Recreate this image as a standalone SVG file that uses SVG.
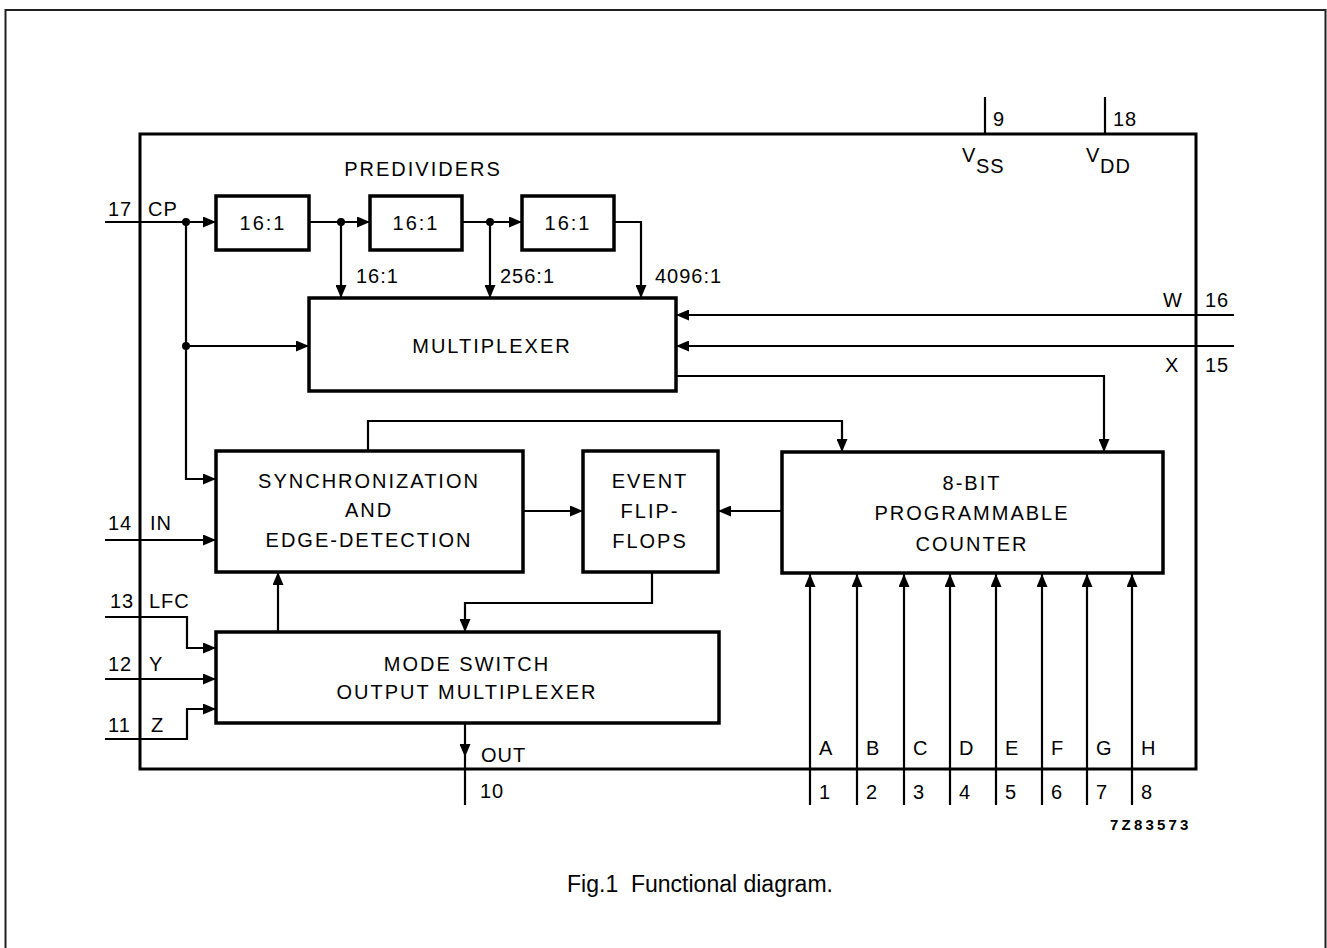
<svg xmlns="http://www.w3.org/2000/svg" width="1327" height="948" viewBox="0 0 1327 948">
<style>
.box{fill:#fff;stroke:#000;stroke-width:3.5}
.w{fill:none;stroke:#000;stroke-width:2.2}
.t{font-family:"Liberation Sans",Arial,sans-serif;font-size:20px;letter-spacing:2px;fill:#000}
.p{font-family:"Liberation Sans",Arial,sans-serif;font-size:20px;letter-spacing:1px;fill:#000}
.m{text-anchor:middle}
</style>
<defs>
<marker id="a" viewBox="0 0 13 11" refX="13" refY="5.5" markerWidth="13" markerHeight="11" orient="auto" markerUnits="userSpaceOnUse"><path d="M0,0L13,5.5L0,11z" fill="#000"/></marker>
</defs>
<rect width="1327" height="948" fill="#fff"/>
<path d="M5.5,954V10H1325.5V954" fill="none" stroke="#222" stroke-width="2"/>
<rect x="140" y="134" width="1056" height="635" fill="none" stroke="#000" stroke-width="3"/>

<g id="connectors">
<path class="w" d="M985,97V134M1105,97V134"/>
<path class="w" d="M105,222H216" marker-end="url(#a)"/>
<path class="w" d="M186,222V479H216" marker-end="url(#a)"/>
<path class="w" d="M186,346H309" marker-end="url(#a)"/>
<circle cx="186" cy="222" r="4"/>
<circle cx="186" cy="346" r="4"/>
<path class="w" d="M309,222H370" marker-end="url(#a)"/>
<path class="w" d="M341,222V298" marker-end="url(#a)"/>
<circle cx="341" cy="222" r="4"/>
<path class="w" d="M462,222H522" marker-end="url(#a)"/>
<path class="w" d="M490,222V298" marker-end="url(#a)"/>
<circle cx="490" cy="222" r="4"/>
<path class="w" d="M614,222H641V298" marker-end="url(#a)"/>
<path class="w" d="M1234,315H676" marker-end="url(#a)"/>
<path class="w" d="M1234,346H676" marker-end="url(#a)"/>
<path class="w" d="M676,376H1104V452" marker-end="url(#a)"/>
<path class="w" d="M368,451V421H842V452" marker-end="url(#a)"/>
<path class="w" d="M523,511H583" marker-end="url(#a)"/>
<path class="w" d="M782,511H718" marker-end="url(#a)"/>
<path class="w" d="M652,572V603H465V632" marker-end="url(#a)"/>
<path class="w" d="M278,632V572" marker-end="url(#a)"/>
<path class="w" d="M105,540H216" marker-end="url(#a)"/>
<path class="w" d="M105,617H187V648H216" marker-end="url(#a)"/>
<path class="w" d="M105,679H216" marker-end="url(#a)"/>
<path class="w" d="M105,739H187V709H216" marker-end="url(#a)"/>
<path class="w" d="M465,723V757" marker-end="url(#a)"/>
<path class="w" d="M465,757V805"/>
<path class="w" d="M810,805V574" marker-end="url(#a)"/>
<path class="w" d="M857,805V574" marker-end="url(#a)"/>
<path class="w" d="M904,805V574" marker-end="url(#a)"/>
<path class="w" d="M950,805V574" marker-end="url(#a)"/>
<path class="w" d="M996,805V574" marker-end="url(#a)"/>
<path class="w" d="M1042,805V574" marker-end="url(#a)"/>
<path class="w" d="M1087,805V574" marker-end="url(#a)"/>
<path class="w" d="M1132,805V574" marker-end="url(#a)"/>
</g>

<g id="pre1"><rect class="box" x="216" y="196" width="93" height="54"/><text class="t m" x="263" y="230">16:1</text></g>
<g id="pre2"><rect class="box" x="370" y="196" width="92" height="54"/><text class="t m" x="416" y="230">16:1</text></g>
<g id="pre3"><rect class="box" x="522" y="196" width="92" height="54"/><text class="t m" x="568" y="230">16:1</text></g>
<g id="mux"><rect class="box" x="309" y="298" width="367" height="93"/><text class="t m" x="492" y="353">MULTIPLEXER</text></g>
<g id="sync"><rect class="box" x="216" y="451" width="307" height="121"/>
<text class="t m" x="369" y="488">SYNCHRONIZATION</text><text class="t m" x="369" y="517">AND</text><text class="t m" x="369" y="547">EDGE-DETECTION</text></g>
<g id="event"><rect class="box" x="583" y="451" width="135" height="121"/>
<text class="t m" x="650" y="488">EVENT</text><text class="t m" x="650" y="518">FLIP-</text><text class="t m" x="650" y="548">FLOPS</text></g>
<g id="counter"><rect class="box" x="782" y="452" width="381" height="121"/>
<text class="t m" x="972" y="490">8-BIT</text><text class="t m" x="972" y="520">PROGRAMMABLE</text><text class="t m" x="972" y="551">COUNTER</text></g>
<g id="mode"><rect class="box" x="216" y="632" width="503" height="91"/>
<text class="t m" x="467" y="671">MODE SWITCH</text><text class="t m" x="467" y="699">OUTPUT MULTIPLEXER</text></g>

<g id="labels">
<text class="t m" x="423" y="176">PREDIVIDERS</text>
<text class="p" x="356" y="283">16:1</text>
<text class="p" x="500" y="283">256:1</text>
<text class="p" x="655" y="283">4096:1</text>
<text class="p" x="993" y="126">9</text>
<text class="p" x="1113" y="126">18</text>
<text class="p" x="962" y="162">V</text><text class="p" x="976" y="173">SS</text>
<text class="p" x="1086" y="162">V</text><text class="p" x="1100" y="173">DD</text>
<text class="p" x="108" y="216">17</text><text class="p" x="148" y="216">CP</text>
<text class="p" x="108" y="530">14</text><text class="p" x="150" y="530">IN</text>
<text class="p" x="110" y="608">13</text><text class="p" x="149" y="608">LFC</text>
<text class="p" x="108" y="671">12</text><text class="p" x="149" y="671">Y</text>
<text class="p" x="108" y="732">11</text><text class="p" x="151" y="732">Z</text>
<text class="p" x="1163" y="307">W</text><text class="p" x="1205" y="307">16</text>
<text class="p" x="1165" y="372">X</text><text class="p" x="1205" y="372">15</text>
<text class="p" x="481" y="762">OUT</text>
<text class="p" x="480" y="798">10</text>
<text class="p" x="819" y="755">A</text><text class="p" x="866" y="755">B</text><text class="p" x="913" y="755">C</text><text class="p" x="959" y="755">D</text>
<text class="p" x="1005" y="755">E</text><text class="p" x="1051" y="755">F</text><text class="p" x="1096" y="755">G</text><text class="p" x="1141" y="755">H</text>
<text class="p" x="819" y="799">1</text><text class="p" x="866" y="799">2</text><text class="p" x="913" y="799">3</text><text class="p" x="959" y="799">4</text>
<text class="p" x="1005" y="799">5</text><text class="p" x="1051" y="799">6</text><text class="p" x="1096" y="799">7</text><text class="p" x="1141" y="799">8</text>
<text x="1110" y="830" font-family="Liberation Sans,Arial,sans-serif" font-size="15" font-weight="bold" letter-spacing="3.2">7Z83573</text>
<text x="700" y="892" text-anchor="middle" font-family="Liberation Sans,Arial,sans-serif" font-size="23" xml:space="preserve">Fig.1  Functional diagram.</text>
</g>
</svg>
